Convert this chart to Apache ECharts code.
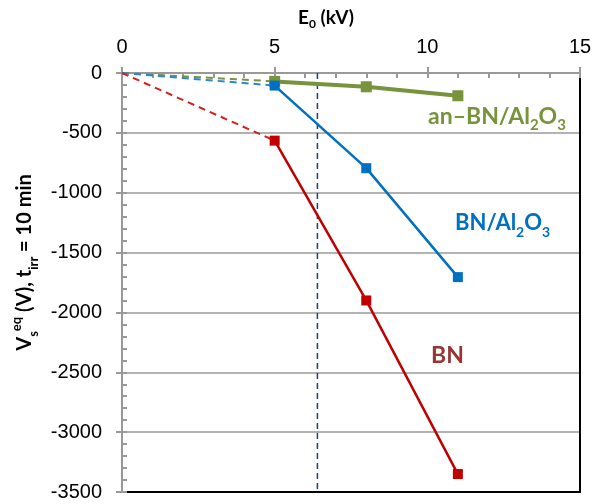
<!DOCTYPE html>
<html><head><meta charset="utf-8">
<script src="https://cdn.jsdelivr.net/npm/echarts@6/dist/echarts.min.js"></script>
<style>html,body{margin:0;padding:0;background:#fff}#c{width:595px;height:504px}</style>
</head><body><div id="c"></div>
<script>
const energies = [5, 8, 11];
const anBN = [-70, -115, -190];
const BNAl = [-105, -795, -1705];
const BN = [-565, -1900, -3350];
const origin = [0, 0];
const vLineX = 6.4;
const xTicks = [0, 5, 10, 15];
const yTicks = [0, -500, -1000, -1500, -2000, -2500, -3000, -3500];

const GREEN = '#77933C', BLUE = '#0070C0', RED = '#C00000';
const pts = arr => energies.map((e, i) => [e, arr[i]]);
const dash = arr => [origin, [energies[0], arr[0]]];

const chart = echarts.init(document.getElementById('c'), null, {renderer: 'canvas'});
const gridCfg = {left: 122, right: 15, top: 73, bottom: 12, containLabel: false, outerBoundsMode: 'none'};
const axisFont = {fontFamily: 'Arial, "Liberation Sans", sans-serif', fontSize: 20, color: '#000'};
const xMin = xTicks[0], xMax = xTicks[xTicks.length - 1];
const yMin = yTicks[yTicks.length - 1], yMax = yTicks[0];

function solid(name, arr, color, width, sym) {
  return {name, type: 'line', data: pts(arr), symbol: 'rect', symbolSize: sym,
    lineStyle: {color, width}, itemStyle: {color}, z: 5, animation: false};
}
function dashed(arr, color) {
  return {type: 'line', data: dash(arr), symbol: 'none',
    lineStyle: {color, width: 2, type: [7, 5]}, z: 4, animation: false};
}
const richLabel = (color, size) => ({
  m: {fontFamily: 'Lato', fontWeight: 'bold', fontSize: size, fill: color, lineHeight: 32, verticalAlign: 'middle'},
  s: {fontFamily: 'Lato', fontWeight: 'bold', fontSize: Math.round(size * 0.65), fill: color, lineHeight: 32, verticalAlign: 'bottom'}
});

chart.setOption({
  backgroundColor: '#fff',
  grid: gridCfg,
  xAxis: [
    {type: 'value', position: 'top', min: xMin, max: xMax, interval: 5,
     name: '{b|E}{sub|0}{b| (kV)}', nameLocation: 'middle', nameGap: 43,
     nameTextStyle: {padding: [0, 50, 0, 0], rich: {
       b: {fontFamily: 'Lato', fontWeight: 'bold', fontSize: 19, color: '#000', lineHeight: 24, verticalAlign: 'middle'},
       sub: {fontFamily: 'Lato', fontWeight: 'bold', fontSize: 12, color: '#000', lineHeight: 24, verticalAlign: 'bottom'}
     }},
     axisLine: {show: true, lineStyle: {color: '#999', width: 2}},
     axisTick: {show: true, inside: false, length: 6, lineStyle: {color: '#999', width: 2}},
     axisLabel: {...axisFont, margin: 16},
     splitLine: {show: false}},
    {type: 'value', position: 'top', min: xMin, max: xMax, interval: 1,
     axisLine: {show: false}, axisTick: {show: true, inside: true, length: 5, lineStyle: {color: '#999', width: 2}},
     axisLabel: {show: false}, splitLine: {show: false}},
    {type: 'value', position: 'bottom', min: xMin, max: xMax,
     axisLine: {show: true, onZero: false, lineStyle: {color: '#000', width: 2}},
     axisTick: {show: false}, axisLabel: {show: false}, splitLine: {show: false}}
  ],
  yAxis: [
    {type: 'value', position: 'left', min: yMin, max: yMax, interval: 500,
     name: '{b|V}{sub|s}{sup|eq}{b| (V), t}{sub|irr}{b| = 10 min}', nameLocation: 'middle', nameGap: 82,
     nameTextStyle: {padding: [0, 0, 0, 40], rich: {
       b: {fontFamily: 'Lato', fontWeight: 'bold', fontSize: 20, color: '#000', lineHeight: 30, verticalAlign: 'middle'},
       sub: {fontFamily: 'Lato', fontWeight: 'bold', fontSize: 13, color: '#000', lineHeight: 30, verticalAlign: 'bottom'},
       sup: {fontFamily: 'Lato', fontWeight: 'bold', fontSize: 13, color: '#000', lineHeight: 30, verticalAlign: 'top'}
     }},
     axisLine: {show: true, onZero: false, lineStyle: {color: '#999', width: 2}},
     axisTick: {show: true, inside: false, length: 6, lineStyle: {color: '#999', width: 2}},
     axisLabel: {...axisFont, margin: 20, formatter: v => String(v)},
     splitLine: {show: true, lineStyle: {color: '#999', width: 1.5}}},
    {type: 'value', position: 'left', min: yMin, max: yMax, interval: 100,
     axisLine: {show: false}, axisTick: {show: true, inside: true, length: 5, lineStyle: {color: '#999', width: 2}},
     axisLabel: {show: false}, splitLine: {show: false}},
    {type: 'value', position: 'right', min: yMin, max: yMax,
     axisLine: {show: true, onZero: false, lineStyle: {color: '#000', width: 2}},
     axisTick: {show: false}, axisLabel: {show: false}, splitLine: {show: false}}
  ],
  series: [
    dashed(anBN, GREEN), dashed(BNAl, '#2E86D0'), dashed(BN, '#D22020'),
    solid('an–BN/Al2O3', anBN, GREEN, 4, 11),
    solid('BN/Al2O3', BNAl, BLUE, 2.5, 10),
    solid('BN', BN, RED, 2.5, 10),
    {type: 'line', data: [[vLineX, yMax], [vLineX, yMin]], symbol: 'none',
     lineStyle: {color: '#1F3D7A', width: 1.5, type: [6, 4]}, z: 3, animation: false}
  ],
  graphic: [
    {type: 'text', left: 428, top: 105, style: {text: '{m|an–BN/Al}{s|2}{m|O}{s|3}', rich: richLabel(GREEN, 23)}},
    {type: 'text', left: 455, top: 212, style: {text: '{m|BN/Al}{s|2}{m|O}{s|3}', rich: richLabel(BLUE, 22)}},
    {type: 'text', left: 431, top: 344, style: {text: 'BN', fontFamily: 'Lato', fontWeight: 'bold', fontSize: 23, fill: '#953735'}}
  ]
});
</script></body></html>
